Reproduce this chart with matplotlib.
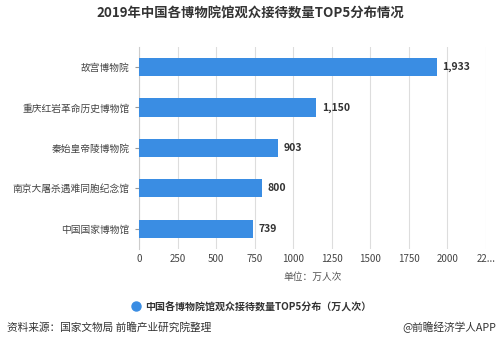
import matplotlib
matplotlib.use("Agg")
import matplotlib.pyplot as plt

plt.rcParams['font.family'] = ['Noto Sans CJK SC', 'DejaVu Sans']

categories = ["故宫博物院", "重庆红岩革命历史博物馆", "秦始皇帝陵博物院", "南京大屠杀遇难同胞纪念馆", "中国国家博物馆"]
values = [1933, 1150, 903, 800, 739]
value_labels = ["1,933", "1,150", "903", "800", "739"]
x_ticks = [0, 250, 500, 750, 1000, 1250, 1500, 1750, 2000, 2250]
x_tick_labels = ["0", "250", "500", "750", "1000", "1250", "1500", "1750", "2000", "22..."]

bar_color = "#3a8de3"

fig = plt.figure(figsize=(5, 3.5), dpi=100)
ax = fig.add_axes([0.278, 0.289, 0.694, 0.577])

ypos = list(range(len(categories)))
ax.barh(ypos, values, height=0.45, color=bar_color, zorder=3)
ax.set_ylim(len(categories) - 0.5, -0.5)
ax.set_xlim(0, 2250)
ax.set_yticks(ypos)
ax.set_yticklabels(categories, fontsize=7, color="#444444")
ax.set_xticks(x_ticks)
ax.set_xticklabels(x_tick_labels, fontsize=7, color="#444444")
ax.tick_params(axis='y', length=3, color="#999999", pad=4)
ax.tick_params(axis='x', length=0, pad=4)
ax.grid(axis='x', color="#dddddd", linewidth=0.8, zorder=0)
for s in ['top', 'right', 'bottom']:
    ax.spines[s].set_visible(False)
ax.spines['left'].set_color("#cccccc")

for y, v, lab in zip(ypos, values, value_labels):
    ax.text(v + 35, y, lab, va='center', ha='left', fontsize=7.5, fontweight='bold', color="#333333")

fig.text(0.626, 0.208, "单位：万人次", ha='center', va='center', fontsize=7, color="#555555")
fig.text(0.5, 0.96, "2019年中国各博物院馆观众接待数量TOP5分布情况", ha='center', va='center',
         fontsize=9.6, fontweight='bold', color="#333333")

# legend
fig.lines.append(plt.Line2D([0.272], [0.125], marker='o', markersize=6.5, color=bar_color,
                            linestyle='none', transform=fig.transFigure))
fig.text(0.29, 0.125, "中国各博物院馆观众接待数量TOP5分布（万人次）", ha='left', va='center',
         fontsize=7.2, fontweight='bold', color="#333333")

fig.text(0.014, 0.065, "资料来源：国家文物局 前瞻产业研究院整理", ha='left', va='center', fontsize=7.7, color="#333333")
fig.text(0.992, 0.065, "@前瞻经济学人APP", ha='right', va='center', fontsize=7.7, color="#333333")

fig.savefig("out.png", dpi=100)
